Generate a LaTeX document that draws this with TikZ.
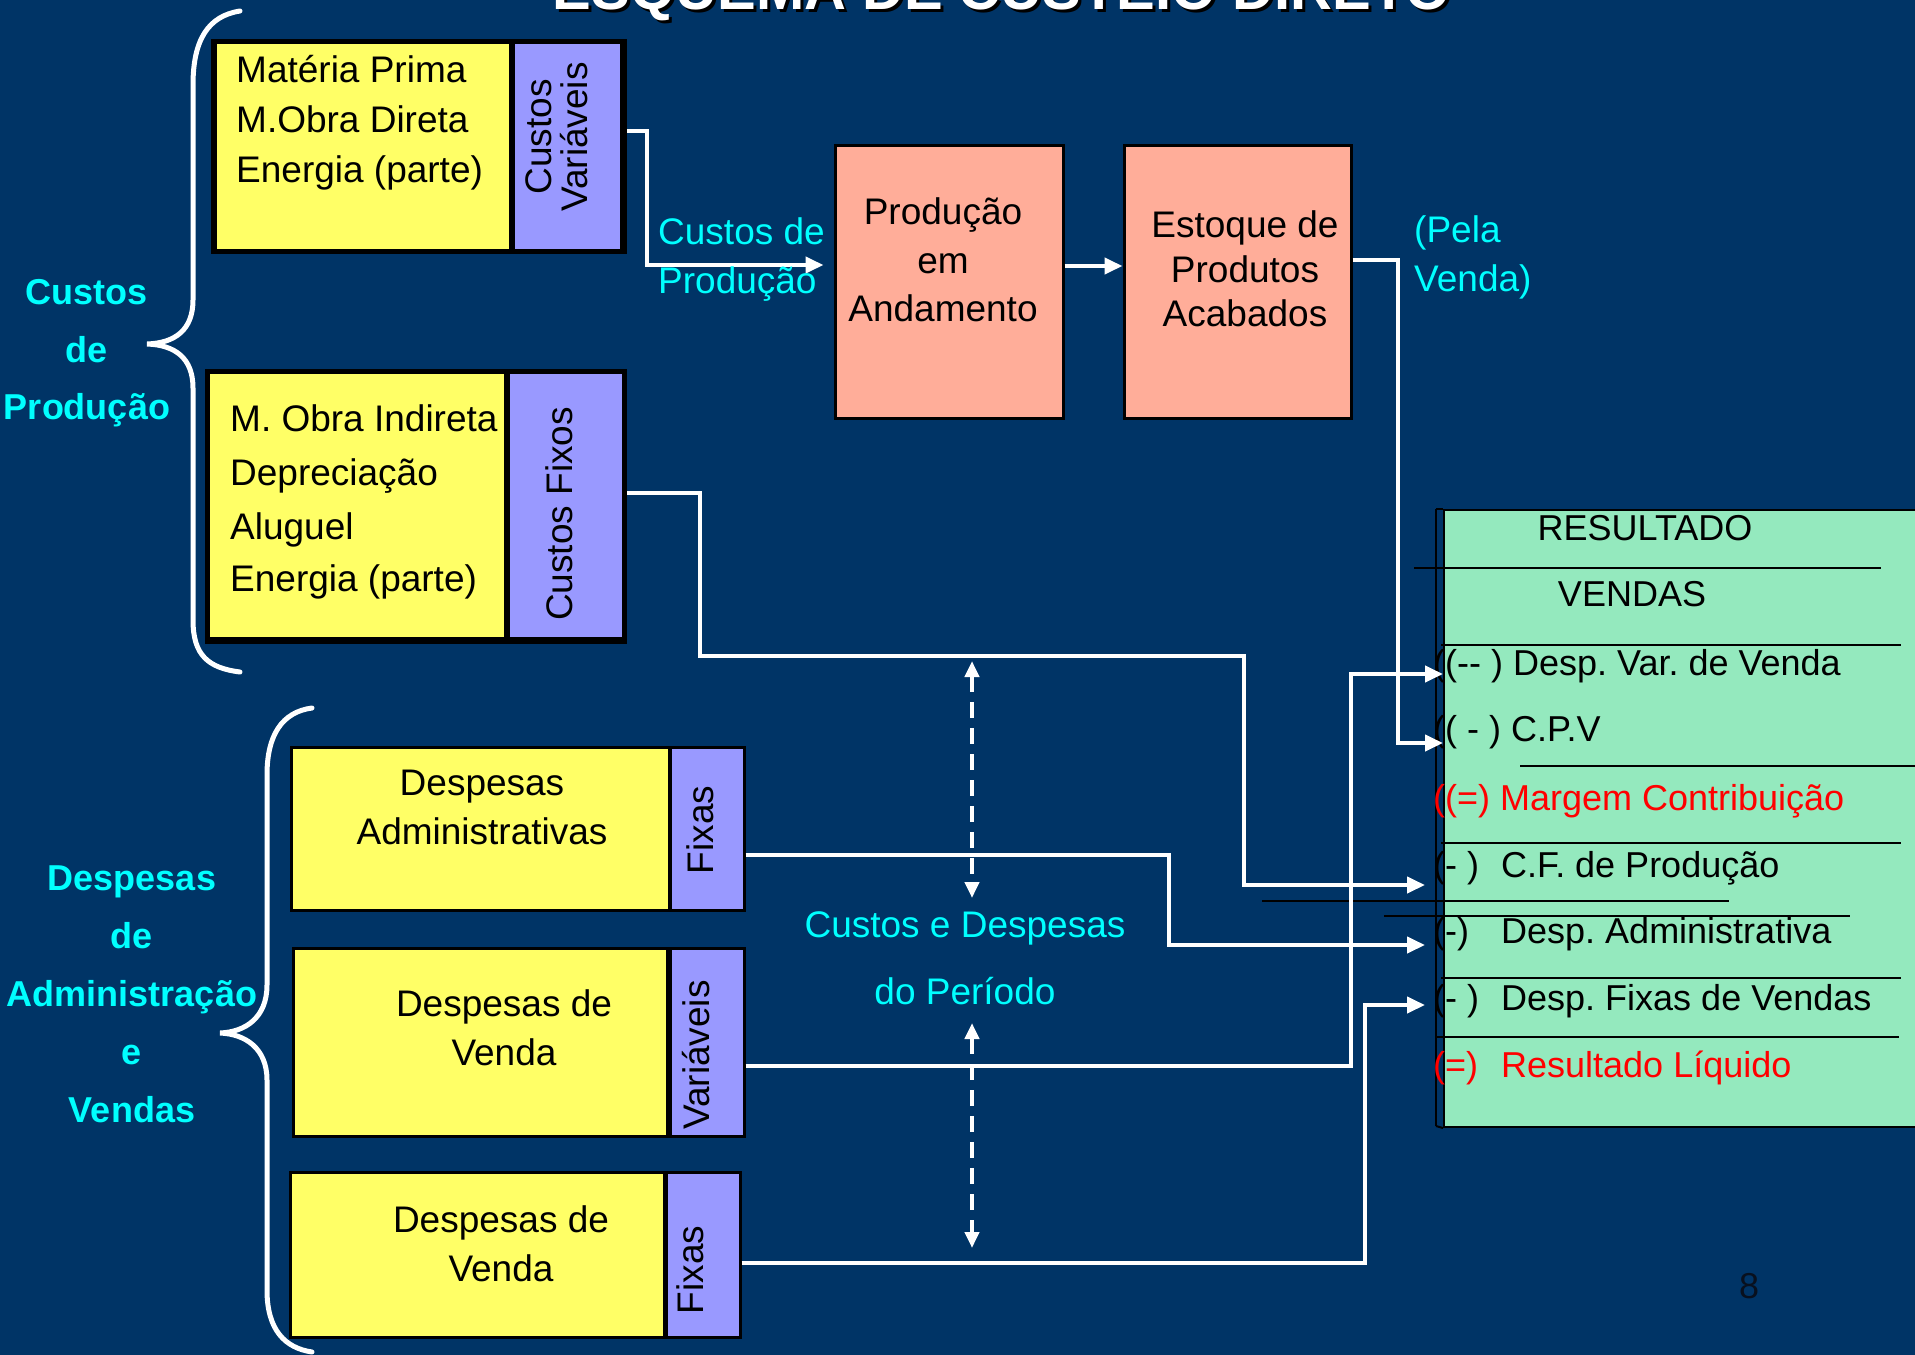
\documentclass[tikz,border=0pt]{standalone}
\usepackage{fontspec}
\setmainfont{Liberation Sans}
\usetikzlibrary{arrows.meta}
\frenchspacing
\definecolor{bgblue}{RGB}{0,52,102}
\definecolor{boxyellow}{RGB}{255,255,102}
\definecolor{boxlilac}{RGB}{153,153,255}
\definecolor{boxsalmon}{RGB}{255,173,153}
\definecolor{boxmint}{RGB}{148,233,190}
\definecolor{labelcyan}{RGB}{0,255,255}
\definecolor{pagenum}{RGB}{8,16,30}
\tikzset{
  body/.style={font=\fontsize{37}{44}\selectfont, inner sep=0pt, text=black},
  ln/.style={body, anchor=base west},
  lnc/.style={body, anchor=base},
  note/.style={font=\fontsize{37}{44}\selectfont, inner sep=0pt, text=labelcyan, anchor=base west},
  grouplbl/.style={font=\fontsize{36}{44}\selectfont\bfseries, inner sep=0pt, text=labelcyan, anchor=base},
  vlabel/.style={font=\fontsize{37}{36}\selectfont, inner sep=0pt, rotate=90, align=center, text=black},
  panel/.style={draw=black, line width=3pt, inner sep=0pt},
  flow/.style={draw=white, line width=4pt, line join=miter},
  brace/.style={draw=white, line width=5pt, line cap=round},
  rule/.style={draw=black, line width=2pt},
  resrow/.style={font=\fontsize{36}{44}\selectfont, inner sep=0pt, anchor=base west, text=black},
  >={Triangle[length=18pt,width=16pt]}
}
\begin{document}
\begin{tikzpicture}[x=1pt,y=-1pt]
\useasboundingbox (0,0) rectangle (1915,1355);
\clip (0,0) rectangle (1915,1355);
\fill[bgblue] (0,0) rectangle (1915,1355);

% title
\node[font=\fontsize{58}{60}\selectfont\bfseries, text=black, inner sep=0pt, anchor=base] (ttlshadow) at (1005,12) {ESQUEMA DE CUSTEIO DIRETO};
\node[font=\fontsize{58}{60}\selectfont\bfseries, text=white, inner sep=0pt, anchor=base] (ttl) at (1002,9) {ESQUEMA DE CUSTEIO DIRETO};

% ---- production costs: variable block
\node[fill=black, inner sep=0pt, minimum width=416pt, minimum height=215pt] (frame1) at (419,146.5) {};
\node[fill=boxyellow, inner sep=0pt, minimum width=292pt, minimum height=205pt] (mp) at (363,146.5) {};
\node[fill=boxlilac, inner sep=0pt, minimum width=105pt, minimum height=205pt] (cv) at (567.5,146.5) {};
\node[ln] (mp1) at (236,82) {Matéria Prima};
\node[ln] (mp2) at (236,132) {M.Obra Direta};
\node[ln] (mp3) at (236,182) {Energia (parte)};
\node[vlabel] (cvt) at (557,137) {Custos\\Variáveis};

% ---- production costs: fixed block
\node[fill=black, inner sep=0pt, minimum width=422pt, minimum height=275pt] (frame2) at (416,506.5) {};
\node[fill=boxyellow, inner sep=0pt, minimum width=294pt, minimum height=263pt] (mo) at (357,505.5) {};
\node[fill=boxlilac, inner sep=0pt, minimum width=112pt, minimum height=263pt] (cf) at (566,505.5) {};
\node[ln] (mo1) at (230,431) {M. Obra Indireta};
\node[ln] (mo2) at (230,485) {Depreciação};
\node[ln] (mo3) at (230,539) {Aluguel};
\node[ln] (mo4) at (230,591) {Energia (parte)};
\node[vlabel] (cft) at (559,514) {Custos Fixos};

% ---- inventory flow
\node[panel, fill=boxsalmon, minimum width=228pt, minimum height=273pt] (pa) at (949,281.5) {};
\node[lnc] (pa1) at (943,224) {Produção};
\node[lnc] (pa2) at (943,273) {em};
\node[lnc] (pa3) at (943,321) {Andamento};
\node[panel, fill=boxsalmon, minimum width=227pt, minimum height=273pt] (ep) at (1237.5,281.5) {};
\node[lnc] (ep1) at (1245,237) {Estoque de};
\node[lnc] (ep2) at (1245,282) {Produtos};
\node[lnc] (ep3) at (1245,326) {Acabados};

% ---- administrative and selling expenses
\node[panel, fill=boxyellow, minimum width=378pt, minimum height=163pt] (da) at (480,828.5) {};
\node[panel, fill=boxlilac, minimum width=74pt, minimum height=163pt] (dafx) at (707,828.5) {};
\node[lnc] (da1) at (482,795) {Despesas};
\node[lnc] (da2) at (482,844) {Administrativas};
\node[vlabel] (dafxt) at (700,830) {Fixas};

\node[panel, fill=boxyellow, minimum width=374pt, minimum height=188pt] (dv) at (480,1042) {};
\node[panel, fill=boxlilac, minimum width=74pt, minimum height=188pt] (dvv) at (707,1042) {};
\node[lnc] (dv1) at (504,1016) {Despesas de};
\node[lnc] (dv2) at (504,1065) {Venda};
\node[vlabel] (dvvt) at (696,1055) {Variáveis};

\node[panel, fill=boxyellow, minimum width=374pt, minimum height=165pt] (dfv) at (477,1254.5) {};
\node[panel, fill=boxlilac, minimum width=74pt, minimum height=165pt] (dfx) at (703,1254.5) {};
\node[lnc] (dfv1) at (501,1232) {Despesas de};
\node[lnc] (dfv2) at (501,1281) {Venda};
\node[vlabel] (dfxt) at (690,1270) {Fixas};

% ---- braces and group labels
\draw[brace] (240,11) .. controls (208,16) and (193,40) .. (193,85) -- (193,300)
  .. controls (193,330) and (175,343) .. (147,344)
  .. controls (175,345) and (193,358) .. (193,388) -- (193,620)
  .. controls (193,655) and (208,668) .. (240,672);
\node[grouplbl] (g1a) at (87,304) {Custos};
\node[grouplbl] (g1b) at (87,362) {de};
\node[grouplbl] (g1c) at (87,419) {Produção};

\draw[brace] (312,708) .. controls (282,712) and (267,735) .. (267,775) -- (267,985)
  .. controls (267,1018) and (245,1032) .. (220,1033)
  .. controls (245,1034) and (267,1048) .. (267,1080) -- (267,1290)
  .. controls (267,1330) and (285,1348) .. (312,1352);
\node[grouplbl] (g2a) at (132,890) {Despesas};
\node[grouplbl] (g2b) at (132,948) {de};
\node[grouplbl] (g2c) at (132,1006) {Administração};
\node[grouplbl] (g2d) at (132,1064) {e};
\node[grouplbl] (g2e) at (132,1122) {Vendas};

% ---- result statement
\node[draw=black, line width=2pt, fill=boxmint, inner sep=0pt, minimum width=495pt, minimum height=617pt, anchor=north west] (res) at (1443,509) {};
\draw[rule] (1436,509) -- (1436,1126);
\draw[rule] (1436,509) -- (res.north west);
\draw[rule] (1436,1126) -- (res.south west);
\draw[rule] (1414,568) -- (1881,568);
\draw[rule] (1441,645) -- (1901,645);
\draw[rule] (1520,766) -- (1930,766);
\draw[rule] (1441,843) -- (1901,843);
\draw[rule] (1262,901) -- (1729,901);
\draw[rule] (1384,916) -- (1850,916);
\draw[rule] (1441,978) -- (1901,978);
\draw[rule] (1435,1037) -- (1899,1037);
\node[body, font=\fontsize{36}{44}\selectfont, anchor=base] (r0) at (1645,540) {RESULTADO};
\node[body, font=\fontsize{36}{44}\selectfont, anchor=base] (r1) at (1632,606) {VENDAS};
\node[resrow] (r2) at (1433,675) {((-{}- ) Desp. Var. de Venda};
\node[resrow] (r3) at (1433,741) {(( - ) C.P.V};
\node[resrow, text=red] (r4) at (1433,810) {((=) Margem Contribuição};
\node[resrow] (r5) at (1433,877) {\makebox[68pt][l]{(- )}C.F. de Produção};
\node[resrow] (r6) at (1433,943) {\makebox[68pt][l]{(-)}Desp. Administrativa};
\node[resrow] (r7) at (1433,1010) {\makebox[68pt][l]{(- )}Desp. Fixas de Vendas};
\node[resrow, text=red] (r8) at (1433,1077) {\makebox[68pt][l]{(=)}Resultado Líquido};

% ---- connectors
\coordinate (b1) at (647,131);
\coordinate (b1d) at (647,265);
\draw[flow,->, shorten >=10pt] (frame1.east |- b1) -- (b1) -- (b1d) -- (pa.west |- b1d);
\node[note] (cp1) at (658,244) {Custos de};
\node[note] (cp2) at (658,293) {Produção};

\coordinate (b2) at (1064,266);
\draw[flow,->] (pa.east |- b2) -- (ep.west |- b2);

\coordinate (b3) at (1398,260);
\coordinate (b3d) at (1398,743);
\draw[flow,->] (ep.east |- b3) -- (b3) -- (b3d) -- (res.west |- b3d);
\node[note] (pv1) at (1414,242) {(Pela};
\node[note] (pv2) at (1414,291) {Venda)};

\coordinate (b4) at (700,493);
\coordinate (b4a) at (700,656);
\coordinate (b4b) at (1244,656);
\coordinate (b4c) at (1244,885);
\draw[flow,->, shorten >=18pt] (frame2.east |- b4) -- (b4) -- (b4a) -- (b4b) -- (b4c) -- (res.west |- b4c);

\coordinate (b5) at (1169,855);
\coordinate (b5d) at (1169,945);
\draw[flow,->, shorten >=18pt] (dafx.east |- b5) -- (b5) -- (b5d) -- (res.west |- b5d);

\coordinate (b6) at (1351,1066);
\coordinate (b6u) at (1351,674);
\draw[flow,->] (dvv.east |- b6) -- (b6) -- (b6u) -- (res.west |- b6u);

\coordinate (b7) at (1365,1263);
\coordinate (b7u) at (1365,1005);
\draw[flow,->, shorten >=18pt] (dfx.east |- b7) -- (b7) -- (b7u) -- (res.west |- b7u);

% ---- period costs marker
\coordinate (d1a) at (972,661);
\coordinate (d1b) at (972,898);
\coordinate (d2a) at (972,1023);
\coordinate (d2b) at (972,1248);
\draw[white, line width=4pt, dash pattern=on 16pt off 10pt, {Triangle[length=16pt,width=14pt]}-{Triangle[length=16pt,width=14pt]}] (d1a) -- (d1b);
\draw[white, line width=4pt, dash pattern=on 16pt off 10pt, {Triangle[length=16pt,width=14pt]}-{Triangle[length=16pt,width=14pt]}] (d2a) -- (d2b);
\node[note, anchor=base] (cd1) at (965,937) {Custos e Despesas};
\node[note, anchor=base] (cd2) at (965,1004) {do Período};

% page number
\node[font=\fontsize{36}{40}\selectfont, text=pagenum, inner sep=0pt, anchor=base] (pg) at (1749,1298) {8};
\end{tikzpicture}
\end{document}
